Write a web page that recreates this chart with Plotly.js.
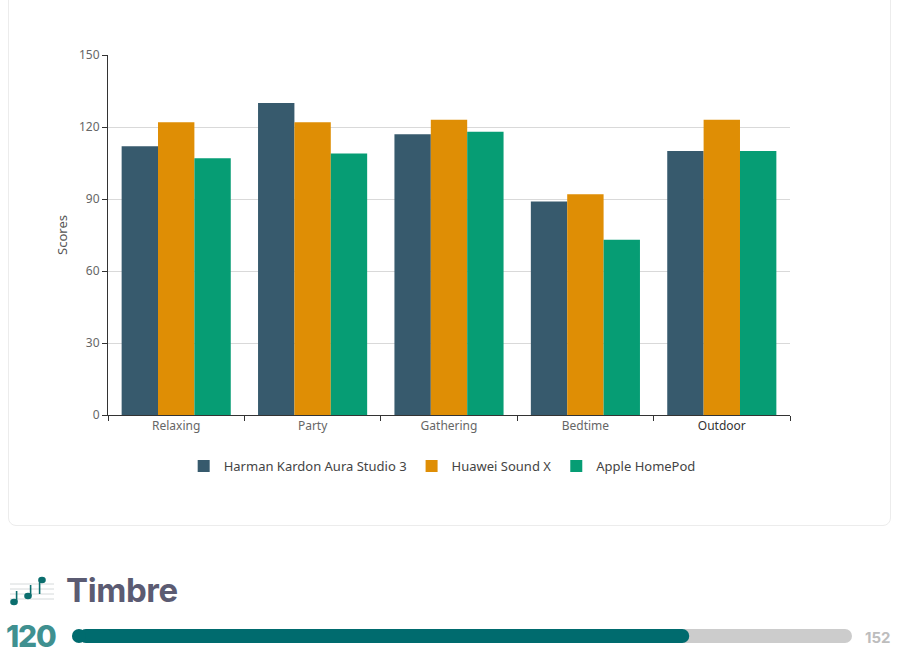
<!DOCTYPE html>
<html>
<head>
<meta charset="utf-8">
<script src="https://cdn.plot.ly/plotly-3.0.1.min.js"></script>
<style>
  body { margin: 0; background: #fff; font-family: "Noto Sans", sans-serif; }
  #card { position: absolute; left: 8px; top: -20px; width: 881px; height: 544px;
          border: 1px solid #ececec; border-radius: 8px; background: #fff; }
  #chart { position: absolute; left: 8px; top: 0; width: 883px; height: 520px; }
  #heading { position: absolute; left: 8px; top: 570px; height: 40px; display: flex; align-items: center; }
  #heading span { font-family: "Inter", "Open Sans", sans-serif; font-weight: 700; font-size: 33px;
                  color: #5b5b72; margin-left: 12px; letter-spacing: -0.4px; }
  #score { position: absolute; left: 6px; top: 618px; font-family: "Inter", sans-serif; font-weight: 800;
           font-size: 30px; color: #3f9090; letter-spacing: -1.2px; }
  #maxval { position: absolute; left: 865px; top: 628px; font-family: "Inter", sans-serif; font-weight: 700;
            font-size: 15px; color: #bdbdbd; }
  #progress { position: absolute; left: 60px; top: 620px; width: 800px; height: 32px; }
</style>
</head>
<body>
<div id="card"></div>
<div id="chart"></div>
<div id="heading">
  <svg width="46" height="32" viewBox="0 0 46 32">
    <g stroke="#d6dadb" stroke-width="1">
      <line x1="2" y1="10" x2="46" y2="10"/><line x1="2" y1="15" x2="46" y2="15"/>
      <line x1="2" y1="20" x2="46" y2="20"/><line x1="2" y1="25" x2="46" y2="25"/>
    </g>
    <g fill="#0b6e6e" stroke="#0b6e6e" stroke-width="1.6">
      <ellipse cx="6" cy="28" rx="3" ry="2.4"/><line x1="8.6" y1="28" x2="8.6" y2="17"/>
      <ellipse cx="20" cy="22" rx="3" ry="2.4"/><line x1="22.6" y1="22" x2="22.6" y2="11"/>
      <ellipse cx="34" cy="6" rx="3" ry="2.4"/><line x1="31.6" y1="6" x2="31.6" y2="20"/>
    </g>
  </svg>
  <span>Timbre</span>
</div>
<div id="score"></div>
<div id="progress"></div>
<div id="maxval"></div>
<script>
const scenarios = ['Relaxing', 'Party', 'Gathering', 'Bedtime', 'Outdoor']
const speakers = ['Harman Kardon Aura Studio 3', 'Huawei Sound X', 'Apple HomePod']
const harmanScores = [112, 130, 117, 89, 110]
const huaweiScores = [122, 122, 123, 92, 123]
const appleScores = [107, 109, 118, 73, 110]
const speakerColors = ['#375a6d', '#df8e05', '#069d74']
const yTicks = [0, 30, 60, 90, 120, 150]

const timbreScore = 120
const timbreMax = 152

const fontFam = '"Noto Sans", "Open Sans", sans-serif'

const seriesValues = [harmanScores, huaweiScores, appleScores]
const traces = speakers.map(function (name, i) {
    return {
        type: 'bar',
        name: name,
        x: scenarios,
        y: seriesValues[i],
        marker: { color: speakerColors[i] },
        hoverinfo: 'skip',
    }
})

// last category label is drawn a bit darker in the original
const tickText = scenarios.map(function (s, i) {
    return i === scenarios.length - 1 ? '<span style="color:#333">' + s + '</span>' : s
})

const layout = {
    width: 883,
    height: 520,
    margin: { l: 100, r: 101, t: 55, b: 105 },
    paper_bgcolor: 'rgba(0,0,0,0)',
    plot_bgcolor: 'rgba(0,0,0,0)',
    barmode: 'group',
    bargap: 0.2,
    bargroupgap: 0,
    font: { family: fontFam, size: 12, color: '#666' },
    xaxis: {
        tickvals: scenarios,
        ticktext: tickText,
        tickson: 'boundaries',
        ticks: 'outside',
        ticklen: 5,
        tickcolor: '#333',
        showline: true,
        linecolor: '#333',
        linewidth: 1,
        showgrid: false,
        tickfont: { size: 12, color: '#666' },
    },
    yaxis: {
        range: [0, 150],
        tickvals: yTicks,
        ticks: 'outside',
        ticklen: 5,
        tickcolor: '#333',
        showline: true,
        linecolor: '#333',
        linewidth: 1,
        gridcolor: '#d9d9d9',
        zeroline: false,
        tickfont: { size: 12, color: '#666' },
        title: { text: 'Scores', font: { size: 13, color: '#555' }, standoff: 8 },
    },
    legend: {
        orientation: 'h',
        x: 0.49,
        xanchor: 'center',
        y: -0.142,
        yanchor: 'middle',
        font: { size: 13, color: '#444' },
        itemwidth: 30,
    },
    showlegend: true,
}

Plotly.newPlot('chart', traces, layout, { staticPlot: true, displayModeBar: false })

// progress bar for the timbre score
const padUnits = 7 / 780 * timbreMax
const progressTraces = [
    {
        type: 'bar', orientation: 'h', y: [0], x: [timbreMax], base: 0,
        marker: { color: '#cccccc', cornerradius: 7 }, width: 1, hoverinfo: 'skip',
    },
    {
        type: 'bar', orientation: 'h', y: [0], x: [timbreScore], base: 0,
        marker: { color: '#006b6e', cornerradius: 7 }, width: 1, hoverinfo: 'skip',
    },
    {
        type: 'scatter', mode: 'markers', y: [0], x: [0],
        marker: { color: '#006b6e', size: 14, symbol: 'circle', line: { width: 0 } },
        cliponaxis: false, hoverinfo: 'skip',
    },
]
const progressLayout = {
    width: 800,
    height: 32,
    margin: { l: 12, r: 8, t: 9, b: 9 },
    paper_bgcolor: 'rgba(0,0,0,0)',
    plot_bgcolor: 'rgba(0,0,0,0)',
    barmode: 'overlay',
    showlegend: false,
    xaxis: { range: [-padUnits, timbreMax], visible: false, fixedrange: true },
    yaxis: { range: [-0.5, 0.5], visible: false, fixedrange: true },
}
Plotly.newPlot('progress', progressTraces, progressLayout, { staticPlot: true, displayModeBar: false })

document.getElementById('score').textContent = timbreScore
document.getElementById('maxval').textContent = timbreMax
</script>
</body>
</html>
